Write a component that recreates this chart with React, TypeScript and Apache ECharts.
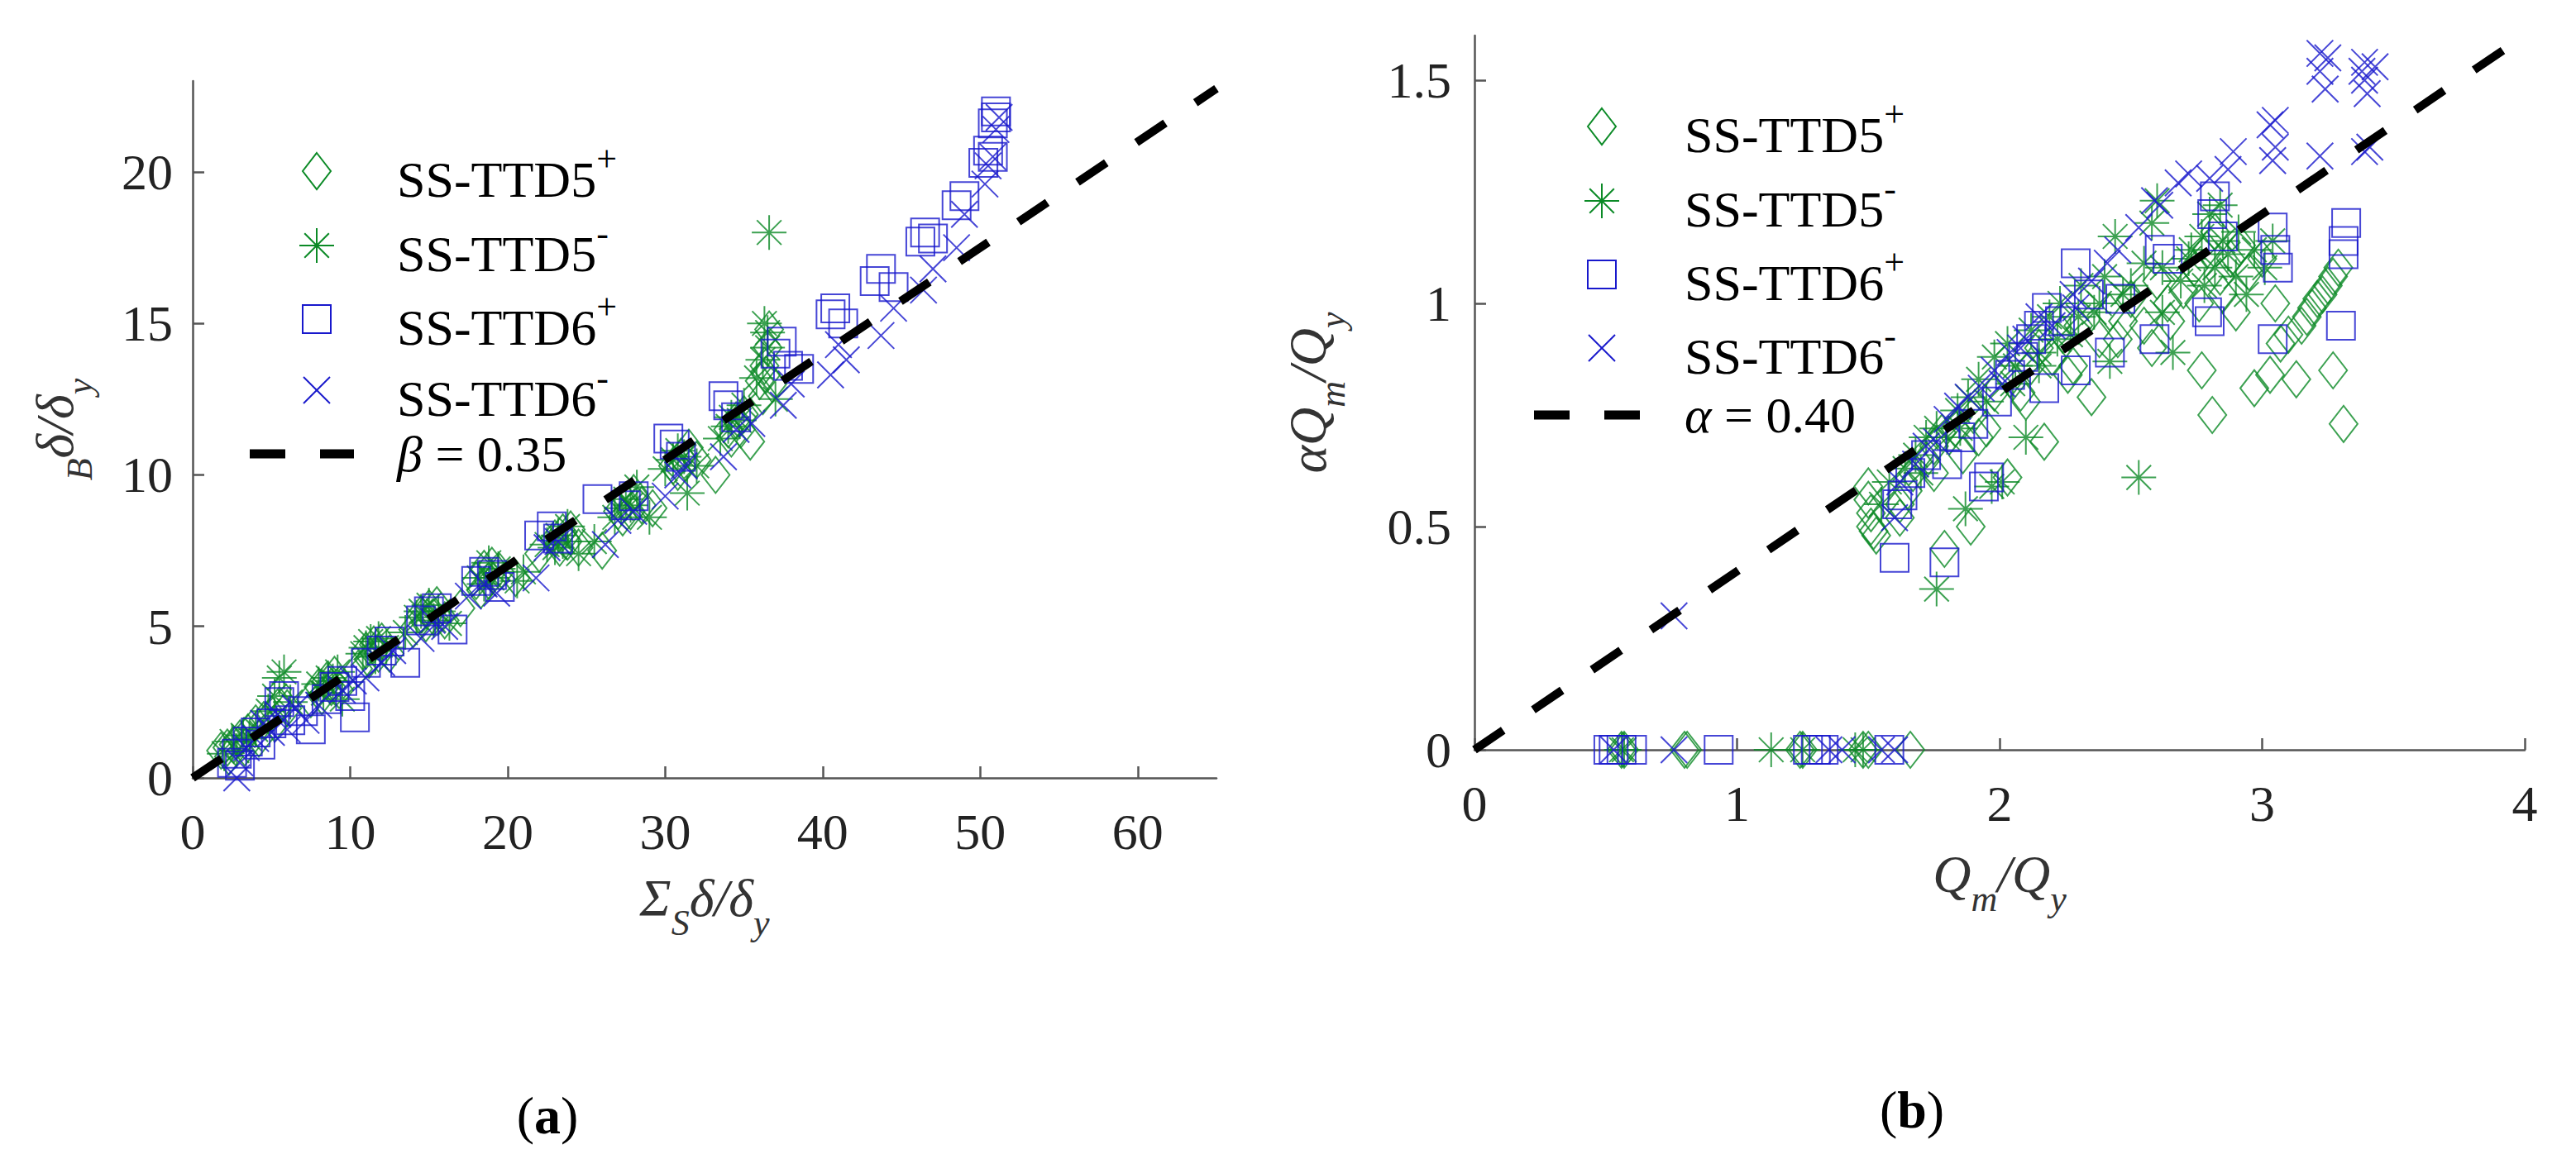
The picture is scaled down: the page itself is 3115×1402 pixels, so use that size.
import React, { useEffect, useRef } from 'react';
import * as echarts from 'echarts';

const GREEN = '#0b8a26';
const BLUE = '#1818cc';
const SERIF = 'Liberation Serif';

// legend texts
const legendBase = ['SS-TTD5', 'SS-TTD5', 'SS-TTD6', 'SS-TTD6'];
const legendSign = ['+', '-', '+', '-'];
const seriesNames = ['SS-TTD5+', 'SS-TTD5-', 'SS-TTD6+', 'SS-TTD6-'];

// ---------- (a) Σ_S δ/δy  vs  _B δ/δy ----------
const aXTicks = [0, 10, 20, 30, 40, 50, 60];
const aYTicks = [0, 5, 10, 15, 20];

const aTtd5Plus = [
  [1.8, 0.9], [2.2, 1.0], [2.6, 1.1], [3.0, 1.3], [3.5, 1.5], [4.0, 1.8], [4.5, 1.9], [5.0, 2.1],
  [5.5, 2.4], [6.0, 2.3], [7.5, 2.6], [8.0, 3.0], [8.5, 3.2], [9.0, 3.4], [9.3, 2.9], [10.5, 3.6],
  [11.0, 4.2], [11.5, 4.4], [12.0, 4.5], [12.5, 4.1], [14.0, 4.9], [14.5, 5.4], [15.0, 5.6],
  [15.5, 5.7], [16.0, 5.2], [17.0, 5.6], [18.0, 6.5], [18.5, 6.9], [19.0, 7.0], [19.5, 6.8],
  [20.5, 6.6], [22.0, 7.4], [23.0, 7.9], [23.5, 8.1], [24.0, 8.2], [24.5, 7.6], [26.0, 7.5],
  [27.0, 8.8], [27.5, 9.1], [28.0, 9.4], [28.5, 9.0], [29.2, 8.9], [30.5, 10.3], [31.0, 10.6],
  [31.5, 10.9], [32.0, 10.5], [33.2, 10.0], [34.0, 11.5], [34.5, 11.8], [35.0, 12.0], [35.4, 11.1],
  [36.0, 13.1], [36.3, 13.6], [36.5, 14.2], [36.6, 14.8], [36.8, 13.0],
  [2.3, 0.7], [3.3, 1.0], [4.2, 1.3], [5.2, 1.8], [8.2, 2.7], [8.8, 3.0], [11.2, 3.9], [11.8, 4.1],
  [14.8, 5.1], [15.3, 5.3], [18.3, 6.2], [18.8, 6.5], [23.3, 7.6], [23.8, 7.8], [27.3, 8.6],
  [27.8, 8.8], [30.8, 10.1], [31.3, 10.4], [34.2, 11.2], [34.8, 11.5], [36.2, 12.6], [36.4, 13.3],
];
const aTtd5Minus = [
  [2.0, 0.8], [2.5, 1.2], [3.2, 1.4], [4.0, 1.6], [4.8, 2.2], [5.5, 3.3], [5.8, 3.5], [6.2, 2.5],
  [8.0, 3.1], [8.6, 3.3], [9.2, 3.5], [9.5, 2.6], [10.8, 4.1], [11.3, 4.5], [11.8, 4.6], [12.3, 4.3],
  [13.5, 4.8], [14.5, 5.5], [15.0, 5.7], [15.6, 5.5], [16.3, 5.1], [18.2, 6.6], [18.8, 7.1],
  [19.4, 6.9], [20.6, 6.5], [21.0, 6.8], [22.5, 7.7], [23.2, 8.0], [23.8, 8.3], [24.5, 7.4],
  [25.5, 7.8], [26.8, 8.6], [27.5, 9.2], [28.2, 9.6], [29.0, 8.6], [30.0, 10.2], [30.8, 10.8],
  [31.4, 9.4], [32.0, 10.3], [33.5, 11.2], [34.2, 11.9], [35.0, 12.3], [35.8, 13.2], [36.3, 15.0],
  [36.5, 14.7], [36.6, 18.0], [37.0, 12.5],
  [2.8, 0.9], [3.6, 1.3], [5.2, 2.7], [8.3, 2.8], [8.9, 3.2], [11.0, 4.3], [11.6, 4.0], [14.2, 5.3],
  [15.3, 5.2], [18.5, 6.4], [19.0, 6.6], [23.0, 7.6], [23.5, 7.8], [27.2, 8.9], [27.8, 9.0],
  [30.5, 10.5], [31.2, 10.6], [34.0, 11.6], [34.7, 11.8], [36.2, 13.8], [36.5, 14.2],
];
const aTtd6Plus = [
  [2.5, 0.5], [2.8, 0.8], [3.0, 0.4], [3.5, 1.2], [4.0, 1.5], [4.3, 1.1], [5.0, 1.8], [5.5, 2.5],
  [5.8, 2.7], [6.2, 1.9], [7.0, 2.2], [7.5, 1.6], [8.5, 2.6], [9.0, 3.0], [9.5, 3.2], [10.0, 2.7],
  [10.3, 2.0], [11.0, 3.8], [12.0, 4.2], [12.5, 4.5], [13.5, 3.8], [14.5, 5.2], [15.0, 5.5],
  [15.5, 5.6], [16.5, 4.9], [18.0, 6.5], [18.5, 6.8], [19.0, 6.7], [19.5, 6.3], [22.0, 8.0],
  [22.8, 8.3], [23.2, 7.9], [25.7, 9.2], [27.5, 9.0], [28.0, 9.3], [30.2, 11.2], [30.6, 11.0],
  [31.0, 10.6], [33.7, 12.6], [34.0, 12.3], [34.5, 11.9], [37.0, 14.0], [37.4, 14.4], [37.8, 13.6],
  [38.5, 13.5], [40.5, 15.3], [40.8, 15.5], [41.3, 15.0], [43.3, 16.4], [43.7, 16.8], [44.5, 16.2],
  [46.2, 17.7], [46.5, 18.0], [47.0, 17.8], [48.5, 18.9], [49.0, 19.2], [50.2, 20.3], [50.5, 20.7],
  [50.8, 20.5], [50.8, 21.6], [51.0, 22.0], [51.0, 21.8],
];
const aTtd6Minus = [
  [2.8, 0.0], [3.0, 0.5], [3.4, 1.0], [4.0, 1.3], [4.5, 1.8], [5.0, 1.5], [5.4, 2.1], [6.0, 1.6],
  [6.5, 2.3], [7.2, 1.9], [8.0, 2.4], [9.5, 2.9], [10.2, 3.2], [11.0, 3.3], [12.0, 3.8], [12.7, 4.2],
  [14.5, 4.6], [15.2, 5.2], [16.0, 5.0], [17.5, 6.0], [18.5, 6.4], [19.3, 6.1], [21.8, 6.6],
  [22.5, 7.6], [23.2, 7.8], [26.2, 7.7], [27.0, 8.5], [28.0, 8.8], [30.0, 9.3], [30.8, 10.0],
  [31.2, 10.3], [33.7, 10.6], [34.5, 11.5], [35.5, 11.7], [37.5, 12.3], [38.0, 13.0], [40.5, 13.3],
  [41.0, 14.3], [41.5, 13.8], [43.7, 14.6], [44.5, 15.5], [46.4, 16.1], [47.0, 16.8], [48.5, 17.5],
  [49.0, 18.6], [50.3, 19.6], [50.5, 20.2], [50.8, 20.5], [51.0, 21.4], [51.2, 21.8],
];
const aFitLine = [[0, 0], [65, 22.75]];

// ---------- (b) Qm/Qy  vs  αQm/Qy ----------
const bXTicks = [0, 1, 2, 3, 4];
const bYTicks = [0, 0.5, 1, 1.5];

const bTtd5Plus = [
  [0.56, 0], [0.57, 0], [0.8, 0], [0.81, 0], [1.24, 0], [1.25, 0], [1.48, 0], [1.5, 0], [1.66, 0],
  [1.5, 0.59], [1.5, 0.56], [1.51, 0.53], [1.51, 0.5], [1.52, 0.49], [1.53, 0.48], [1.62, 0.55],
  [1.62, 0.52], [1.65, 0.58], [1.67, 0.62], [1.72, 0.65], [1.75, 0.68], [1.79, 0.45], [1.78, 0.71],
  [1.83, 0.72], [1.86, 0.66], [1.89, 0.5], [1.9, 0.75], [1.95, 0.72], [1.98, 0.8], [2.03, 0.61],
  [2.04, 0.83], [2.08, 0.8], [2.12, 0.86], [2.15, 0.9], [2.17, 0.69], [2.2, 0.88], [2.24, 0.93],
  [2.28, 0.86], [2.3, 0.95], [2.35, 0.79], [2.38, 0.92], [2.42, 0.98], [2.47, 0.96], [2.5, 1.01],
  [2.55, 0.95], [2.58, 0.9], [2.6, 1.05], [2.64, 1.0], [2.7, 1.03], [2.74, 1.08], [2.77, 0.85],
  [2.79, 1.12], [2.81, 0.75], [2.82, 1.16], [2.84, 1.06], [2.88, 1.1], [2.92, 1.13], [2.95, 1.07],
  [2.97, 0.81], [3.0, 1.1], [3.03, 0.84], [3.05, 1.0], [3.07, 0.91], [3.1, 0.93], [3.13, 0.83],
  [3.15, 0.95], [3.17, 0.97], [3.19, 0.99], [3.21, 1.01], [3.23, 1.02], [3.25, 1.04], [3.27, 0.85],
  [3.27, 1.06], [3.29, 1.08], [3.31, 0.73],
  [1.75, 0.62], [1.92, 0.7], [2.1, 0.78], [2.26, 0.84], [2.45, 0.92], [2.65, 0.96], [2.85, 1.02],
  [2.9, 0.98], [2.76, 1.0],
];
const bTtd5Minus = [
  [0.56, 0], [0.57, 0], [1.13, 0], [1.25, 0], [1.45, 0], [1.48, 0],
  [1.55, 0.55], [1.58, 0.6], [1.64, 0.63], [1.68, 0.66], [1.72, 0.7], [1.76, 0.36], [1.76, 0.72],
  [1.8, 0.7], [1.84, 0.76], [1.87, 0.54], [1.88, 0.79], [1.92, 0.83], [1.97, 0.59], [1.98, 0.88],
  [2.01, 0.6], [2.03, 0.91], [2.06, 0.86], [2.1, 0.7], [2.12, 0.94], [2.15, 0.89], [2.19, 0.97],
  [2.23, 1.0], [2.27, 0.93], [2.31, 1.04], [2.36, 0.98], [2.4, 1.06], [2.42, 0.87], [2.44, 1.15],
  [2.47, 1.02], [2.53, 0.61], [2.55, 1.09], [2.58, 1.18], [2.6, 1.23], [2.62, 0.98], [2.66, 0.89],
  [2.69, 1.05], [2.73, 1.12], [2.77, 1.15], [2.8, 1.2], [2.82, 1.08], [2.84, 1.22], [2.87, 1.11],
  [2.91, 1.16], [2.94, 1.02], [2.97, 1.12], [3.01, 1.08], [3.04, 1.14],
  [1.7, 0.62], [1.85, 0.72], [1.95, 0.78], [2.05, 0.82], [2.15, 0.86], [2.22, 0.92], [2.3, 0.97],
  [2.38, 1.0], [2.5, 1.04], [2.62, 1.08], [2.72, 1.1], [2.85, 1.14], [2.9, 1.06], [2.78, 1.04],
];
const bTtd6Plus = [
  [0.51, 0], [0.53, 0], [0.56, 0], [0.6, 0], [0.93, 0], [1.27, 0], [1.3, 0], [1.33, 0], [1.58, 0],
  [1.6, 0.43], [1.61, 0.55], [1.63, 0.57], [1.66, 0.62], [1.72, 0.66], [1.79, 0.42], [1.8, 0.64],
  [1.85, 0.7], [1.9, 0.73], [1.94, 0.59], [1.96, 0.61], [1.99, 0.78], [2.04, 0.84], [2.09, 0.88],
  [2.12, 0.92], [2.15, 0.95], [2.17, 0.81], [2.18, 0.99], [2.23, 0.96], [2.29, 0.85], [2.29, 1.09],
  [2.34, 1.02], [2.42, 0.89], [2.46, 1.01], [2.59, 0.92], [2.61, 1.12], [2.64, 1.1], [2.79, 0.98],
  [2.8, 0.96], [2.81, 1.2], [2.82, 1.24], [2.85, 1.15], [3.04, 0.92], [3.04, 1.17], [3.05, 1.12],
  [3.06, 1.08], [3.3, 0.95], [3.31, 1.11], [3.31, 1.14], [3.32, 1.18],
];
const bTtd6Minus = [
  [0.53, 0], [0.76, 0], [1.35, 0], [1.4, 0], [1.55, 0], [1.6, 0],
  [0.76, 0.3], [1.6, 0.52], [1.62, 0.6], [1.68, 0.64], [1.72, 0.68], [1.76, 0.69], [1.8, 0.74],
  [1.84, 0.77], [1.88, 0.79], [1.93, 0.81], [1.98, 0.85], [2.01, 0.82], [2.04, 0.89], [2.08, 0.9],
  [2.1, 0.92], [2.15, 0.97], [2.2, 0.95], [2.28, 1.02], [2.29, 0.99], [2.35, 1.05], [2.41, 1.09],
  [2.45, 1.12], [2.53, 1.17], [2.59, 1.23], [2.61, 1.22], [2.68, 1.27], [2.72, 1.29], [2.8, 1.28],
  [2.87, 1.3], [2.89, 1.34], [3.03, 1.4], [3.04, 1.32], [3.05, 1.35], [3.05, 1.41], [3.22, 1.33],
  [3.22, 1.52], [3.22, 1.56], [3.24, 1.48], [3.25, 1.55], [3.38, 1.52], [3.39, 1.54], [3.39, 1.5],
  [3.4, 1.47], [3.39, 1.34], [3.43, 1.53], [3.41, 1.35],
];
const bFitLine = [[0, 0], [4, 1.6]];

// marker shapes
const X_PATH = 'path://M0,0L10,10M10,0L0,10';
const STAR_PATH = 'path://M5,0L5,10M0,5L10,5M1.46,1.46L8.54,8.54M8.54,1.46L1.46,8.54';
const markerDefs = [
  { symbol: 'diamond', size: [34, 44], color: GREEN },
  { symbol: STAR_PATH, size: 42, color: GREEN },
  { symbol: 'rect', size: 34, color: BLUE },
  { symbol: X_PATH, size: 32, color: BLUE },
];

const nameRich = {
  m: { fontFamily: SERIF, fontStyle: 'italic', fontSize: 64, color: '#333', verticalAlign: 'top' },
  s: { fontFamily: SERIF, fontStyle: 'italic', fontSize: 44, color: '#333', verticalAlign: 'top', padding: [40, 0, 0, 0] },
};

const axisCommon = (ticks: number[], margin: number) => ({
  type: 'value' as const,
  axisLine: { onZero: false, lineStyle: { color: '#555', width: 2.5 } },
  axisTick: { inside: true, length: 14, customValues: ticks, lineStyle: { color: '#555', width: 2.5 } },
  axisLabel: { customValues: ticks, fontFamily: SERIF, fontSize: 62, color: '#222', margin },
  splitLine: { show: false },
});

const scatter = (idx: number, data: number[][], axis: number) => ({
  type: 'scatter',
  name: seriesNames[idx],
  data,
  xAxisIndex: axis,
  yAxisIndex: axis,
  symbol: markerDefs[idx].symbol,
  symbolSize: markerDefs[idx].size,
  itemStyle: { color: 'rgba(0,0,0,0)', borderColor: markerDefs[idx].color, borderWidth: 2 },
  silent: true,
});

const fitLine = (data: number[][], axis: number) => ({
  type: 'line',
  data,
  xAxisIndex: axis,
  yAxisIndex: axis,
  symbol: 'none',
  lineStyle: { color: '#000', width: 10, type: [42, 44] },
  z: 5,
  silent: true,
});

// legend drawn with graphic elements (MATLAB-like layout)
const legendMarker = (idx: number, x: number, y: number) => {
  const style = { fill: 'none', stroke: markerDefs[idx].color, lineWidth: 2 };
  if (idx === 0) {
    return { type: 'polygon', x, y, shape: { points: [[0, -22], [17, 0], [0, 22], [-17, 0]] }, style };
  }
  if (idx === 1) {
    const r = 21;
    const d = 14.8;
    return {
      type: 'group', x, y,
      children: [
        { type: 'line', shape: { x1: 0, y1: -r, x2: 0, y2: r }, style },
        { type: 'line', shape: { x1: -r, y1: 0, x2: r, y2: 0 }, style },
        { type: 'line', shape: { x1: -d, y1: -d, x2: d, y2: d }, style },
        { type: 'line', shape: { x1: d, y1: -d, x2: -d, y2: d }, style },
      ],
    };
  }
  if (idx === 2) {
    return { type: 'rect', x, y, shape: { x: -17, y: -17, width: 34, height: 34 }, style };
  }
  return {
    type: 'group', x, y,
    children: [
      { type: 'line', shape: { x1: -16, y1: -16, x2: 16, y2: 16 }, style },
      { type: 'line', shape: { x1: 16, y1: -16, x2: -16, y2: 16 }, style },
    ],
  };
};

const legendRich = {
  t: { fontFamily: SERIF, fontSize: 62, color: '#111', verticalAlign: 'top', padding: [16, 0, 0, 0] },
  p: { fontFamily: SERIF, fontSize: 44, color: '#111', verticalAlign: 'top' },
  g: { fontFamily: SERIF, fontStyle: 'italic', fontSize: 62, color: '#111', verticalAlign: 'top' },
  n: { fontFamily: SERIF, fontSize: 62, color: '#111', verticalAlign: 'top' },
};

const buildLegend = (mx: number, tx: number, rows: number[], dash: number[], fitText: string) => {
  const els: any[] = [];
  rows.forEach((y, i) => {
    els.push(legendMarker(i, mx, y));
    els.push({
      type: 'text', x: tx, y: y + 2,
      style: {
        text: `{t|${legendBase[i]}}{p|${legendSign[i]}}`,
        rich: legendRich, textVerticalAlign: 'middle', verticalAlign: 'middle',
      },
    });
  });
  els.push({
    type: 'line',
    shape: { x1: dash[0], y1: dash[2], x2: dash[1], y2: dash[2] },
    style: { stroke: '#000', lineWidth: 11, lineDash: [43, 42] },
  });
  els.push({
    type: 'text', x: tx, y: dash[2],
    style: { text: fitText, rich: legendRich, textVerticalAlign: 'middle', verticalAlign: 'middle' },
  });
  return els;
};

const panelLabel = (letter: string, x: number, y: number) => ({
  type: 'text', x, y,
  style: {
    text: `{n|(}{b|${letter}}{n|)}`,
    rich: {
      n: { fontFamily: SERIF, fontSize: 64, color: '#111' },
      b: { fontFamily: SERIF, fontSize: 64, fontWeight: 'bold', color: '#111' },
    },
    textAlign: 'center', align: 'center', textVerticalAlign: 'middle', verticalAlign: 'middle',
  },
});

const App: React.FC = () => {
  const chartRef = useRef<HTMLDivElement>(null);

  useEffect(() => {
    document.body.style.margin = '0';
    if (!chartRef.current) return;
    const chart = echarts.init(chartRef.current, null, { renderer: 'svg' });

    const option: any = {
      animation: false,
      backgroundColor: '#fff',
      grid: [
        { left: 233, top: 98, width: 1238, height: 843 },
        { left: 1783, top: 43, width: 1270, height: 864 },
      ],
      xAxis: [
        {
          ...axisCommon(aXTicks, 34), gridIndex: 0, min: 0, max: 65, interval: 10,
          name: '{m|Σ}{s|S}{m|δ/δ}{s|y}', nameLocation: 'middle', nameGap: 113,
          nameTextStyle: { rich: nameRich },
        },
        {
          ...axisCommon(bXTicks, 34), gridIndex: 1, min: 0, max: 4, interval: 1,
          name: '{m|Q}{s|m}{m|/Q}{s|y}', nameLocation: 'middle', nameGap: 118,
          nameTextStyle: { rich: nameRich },
        },
      ],
      yAxis: [
        {
          ...axisCommon(aYTicks, 24), gridIndex: 0, min: 0, max: 23, interval: 5,
          name: '{s|B}{m|δ/δ}{s|y}', nameLocation: 'middle', nameGap: 115,
          nameTextStyle: { rich: nameRich },
        },
        {
          ...axisCommon(bYTicks, 28), gridIndex: 1, min: 0, max: 1.6, interval: 0.5,
          name: '{m|αQ}{s|m}{m|/Q}{s|y}', nameLocation: 'middle', nameGap: 150,
          nameTextStyle: { rich: nameRich },
        },
      ],
      series: [
        scatter(0, aTtd5Plus, 0),
        scatter(1, aTtd5Minus, 0),
        scatter(2, aTtd6Plus, 0),
        scatter(3, aTtd6Minus, 0),
        fitLine(aFitLine, 0),
        scatter(0, bTtd5Plus, 1),
        scatter(1, bTtd5Minus, 1),
        scatter(2, bTtd6Plus, 1),
        scatter(3, bTtd6Minus, 1),
        fitLine(bFitLine, 1),
      ],
      graphic: {
        elements: [
          ...buildLegend(383, 480, [207, 297, 386, 472], [302, 428, 549], '{g|β}{n| = 0.35}'),
          ...buildLegend(1937, 2037, [153, 243, 332, 421], [1855, 1983, 502], '{g|α}{n| = 0.40}'),
          panelLabel('a', 662, 1349),
          panelLabel('b', 2312, 1342),
        ],
      },
    };

    chart.setOption(option);
    return () => {
      chart.dispose();
    };
  }, []);

  return <div ref={chartRef} style={{ width: 3115, height: 1402 }} />;
};

export default App;
